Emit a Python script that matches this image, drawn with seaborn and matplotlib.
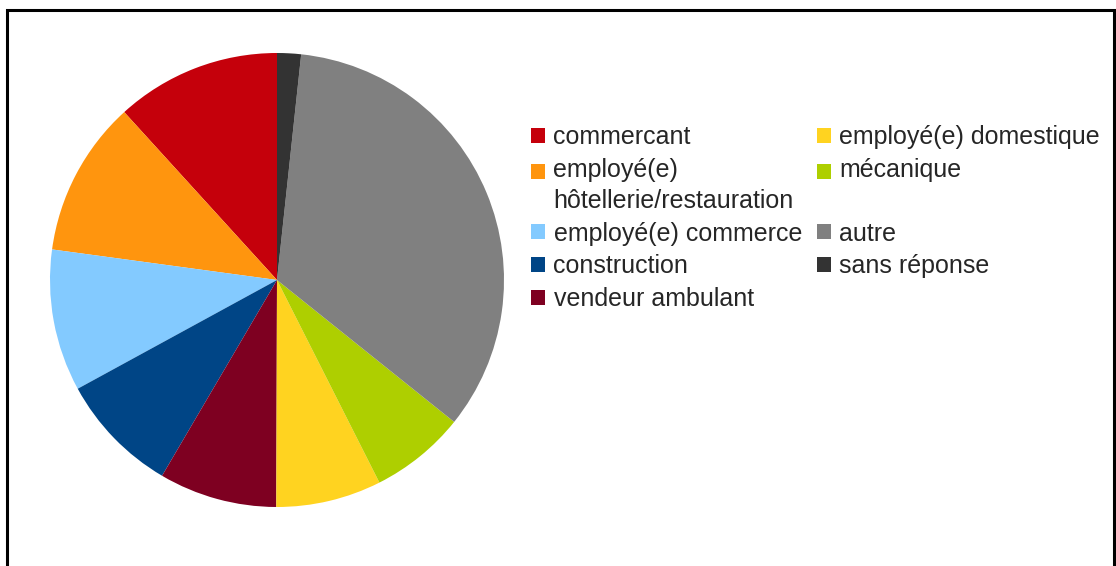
import matplotlib
matplotlib.use("Agg")
import matplotlib.pyplot as plt
import seaborn as sns

# categories in drawing order (counter-clockwise from 12 o'clock)
categories = [
    "commercant",
    "employé(e)\nhôtellerie/restauration",
    "employé(e) commerce",
    "construction",
    "vendeur ambulant",
    "employé(e) domestique",
    "mécanique",
    "autre",
    "sans réponse",
]
shares = [11.75, 11.1, 10.1, 8.6, 8.4, 7.5, 6.8, 34.05, 1.7]
colors = ["#c5000b", "#ff950e", "#83caff", "#004586", "#7e0021",
          "#ffd320", "#aecf00", "#808080", "#333333"]

sns.set_theme(style="white")
plt.rcParams["font.family"] = ["Liberation Sans", "DejaVu Sans"]

W, H = 1116, 566
fig = plt.figure(figsize=(W / 100, H / 100), dpi=100)

# pie: center (277, 280) px, radius 227 px
cx, cy, r = 277, 280, 227
ax = fig.add_axes([(cx - r) / W, (H - cy - r) / H, 2 * r / W, 2 * r / H])
wedges, _ = ax.pie(shares, colors=colors, startangle=90, counterclock=True,
                   wedgeprops=dict(linewidth=0))
ax.set_xlim(-1, 1)
ax.set_ylim(-1, 1)
ax.set_aspect("equal")

# legend labels: pad mécanique so the two columns keep their rows aligned
leg_labels = [c + "\n" if c == "mécanique" else c for c in categories]
fs = 18
line_sp = 1.38
leg = fig.legend(wedges, leg_labels, ncol=2, loc="upper left",
                 bbox_to_anchor=(531 / W, 1 - 125 / H), frameon=False,
                 fontsize=fs, handlelength=0.55, handleheight=0.55,
                 handletextpad=0.35, columnspacing=0.6, labelspacing=0.35,
                 borderpad=0, borderaxespad=0)
for t in leg.get_texts():
    t.set_linespacing(line_sp)
# put the marker of two-line entries on the first line
for h, t in zip(leg.legend_handles, leg.get_texts()):
    if "\n" in t.get_text():
        h.set_y(h.get_y() + 0.5 * 29 * 0.72)

# frame around the chart (open at the bottom)
xs = [6.5 / W, 6.5 / W, 1114 / W, 1114 / W]
ys = [0, 1 - 9.5 / H, 1 - 9.5 / H, 0]
fig.add_artist(plt.Line2D(xs, ys, transform=fig.transFigure, color="black",
                          linewidth=2.2, solid_joinstyle="miter"))

fig.savefig("out.png", dpi=100)
